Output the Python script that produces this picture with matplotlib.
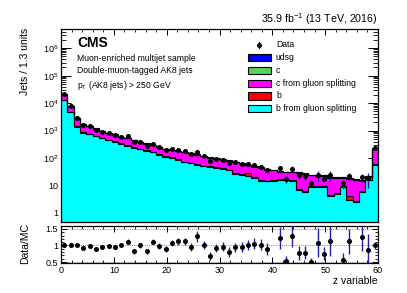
import numpy as np
import matplotlib
matplotlib.use("Agg")
import matplotlib.pyplot as plt
from matplotlib.patches import Rectangle
from matplotlib.ticker import FixedLocator, FuncFormatter, MultipleLocator, LogLocator, NullFormatter

# ---- data ---------------------------------------------------------------
# 50 bins over 0..60 (the y-axis title of the original still says 1.3 units)
N_BINS = 50
edges = np.linspace(0, 60, N_BINS + 1)

# stacked MC components (bottom -> top)
b_gsp = [13000, 4700, 1350, 850, 740, 620, 520, 450, 390, 330,
         285, 240, 210, 185, 160, 130, 112, 100, 85, 70,
         64, 58, 50, 48, 45, 40, 36, 26, 24, 22,
         19, 15, 14, 15, 16, 16, 15, 7, 6, 9,
         9, 9, 4, 5, 9, 3, 2.5, 6, 16, 56]
b = [500, 200, 60, 35, 30, 25, 20, 18, 15, 14,
     14, 12, 10, 8, 7, 6, 5, 5, 4, 4,
     3, 3, 3, 2, 2, 2, 2, 2, 2, 6,
     1, 1, 1, 1, 1, 0.5, 0.5, 0.5, 0.5, 0.5,
     0.3, 0.3, 0.3, 0.3, 0.3, 1.2, 0.2, 0.2, 0.3, 3]
c_gsp = [6600, 2600, 1400, 760, 682, 520, 392, 340, 306, 240,
         237, 186, 160, 138, 125, 107, 96, 89, 85, 86,
         79, 70, 63, 51, 47, 44, 40.5, 43, 37, 27,
         27, 28, 23, 20, 15, 13.5, 14.5, 21.5, 20, 14,
         12.2, 13.2, 15.2, 13.2, 10.2, 13.3, 13, 8.5, 4, 163]
c = [500, 180, 50, 30, 28, 20, 16, 12, 11, 9,
     8, 7, 6, 5, 5, 4, 4, 3, 3, 3,
     2, 2, 2, 2, 2, 2, 2, 1.5, 1.5, 1.5,
     4, 1, 1, 1, 1, 1, 1, 1, 0.8, 0.8,
     0.8, 0.8, 0.8, 0.8, 0.8, 0.8, 0.8, 0.8, 1, 8]
udsg = [400, 120, 40, 25, 20, 15, 12, 10, 8, 7,
        6, 5, 4, 4, 3, 3, 3, 3, 3, 2,
        2, 2, 2, 7, 2, 2, 1.5, 1.5, 1.5, 1.5,
        1, 1, 1, 1, 1, 1, 1, 1, 0.7, 0.7,
        0.7, 0.7, 0.7, 0.7, 0.7, 0.7, 0.5, 0.5, 0.7, 10]

# data counts (0 = empty bin, not drawn)
data = [21000, 7800, 2900, 1564, 1455, 1056, 912, 805, 686, 600,
        616, 369, 390, 279, 336, 243, 198, 214, 203, 185,
        143, 173, 121, 76, 91, 87, 66, 70, 63, 59,
        55, 47, 36, 0, 42, 17, 41, 24, 22, 12.5,
        25, 18, 24, 0, 12, 21.5, 0, 20, 19, 240]

# data/MC uncertainty (data + MC statistics)
ratio_err = [0.02, 0.02, 0.03, 0.03, 0.03, 0.04, 0.04, 0.05, 0.05, 0.06,
             0.07, 0.07, 0.07, 0.08, 0.08, 0.09, 0.09, 0.10, 0.11, 0.12,
             0.11, 0.17, 0.12, 0.12, 0.13, 0.13, 0.14, 0.14, 0.15, 0.15,
             0.16, 0.17, 0.18, 0.00, 0.34, 0.15, 0.33, 0.20, 0.20, 0.12,
             0.43, 0.20, 0.45, 0.00, 0.20, 0.38, 0.00, 0.40, 0.48, 0.10]

components = [
    (b_gsp, "#00ffff", "b from gluon splitting"),
    (b, "#ff0000", "b"),
    (c_gsp, "#ff00ff", "c from gluon splitting"),
    (c, "#55d455", "c"),
    (udsg, "#0000ff", "udsg"),
]

# ---- style ----------------------------------------------------------------
plt.rcParams.update({
    "font.family": "Liberation Sans",
    "mathtext.fontset": "custom",
    "mathtext.rm": "Liberation Sans",
    "mathtext.it": "Liberation Sans:italic",
    "mathtext.bf": "Liberation Sans:bold",
    "axes.linewidth": 0.9,
})

W, H = 407, 293
fig = plt.figure(figsize=(W / 100, H / 100), dpi=100, facecolor="white")


def fx(px):
    return px / W


def fy(py):
    return 1 - py / H


ax = fig.add_axes([fx(61), fy(222), fx(378) - fx(61), fy(29) - fy(222)])
rax = fig.add_axes([fx(61), fy(263), fx(378) - fx(61), fy(226) - fy(263)])

# ---- main stack ---------------------------------------------------------
bottom = np.full(N_BINS, 0.05)
for vals, color, _ in components:
    top = bottom + np.asarray(vals, dtype=float)
    ax.stairs(top, edges, baseline=bottom, fill=True, color=color, zorder=2)
    ax.stairs(top, edges, baseline=None, color="black", linewidth=0.8, zorder=3)
    bottom = top
mc_total = bottom

data = np.asarray(data, dtype=float)
ratio_err = np.asarray(ratio_err)
filled = data > 0
ratio = data / mc_total
data_err = ratio_err * mc_total
centers = 0.5 * (edges[1:] + edges[:-1])
ax.errorbar(centers[filled], data[filled], yerr=data_err[filled], fmt="o",
            color="black", ecolor="#2020a0", elinewidth=1.0, markersize=2.6,
            capsize=0, zorder=5)

ax.set_yscale("log")
ax.set_xlim(0, 60)
ax.set_ylim(0.47, 5e6)


def log_fmt(v, pos):
    if v == 1:
        return "1"
    if v == 10:
        return "10"
    return r"$10^{%d}$" % int(round(np.log10(v)))


ax.yaxis.set_major_locator(FixedLocator([1, 10, 1e2, 1e3, 1e4, 1e5, 1e6]))
ax.yaxis.set_major_formatter(FuncFormatter(log_fmt))
ax.yaxis.set_minor_locator(LogLocator(base=10, subs=np.arange(2, 10), numticks=20))
ax.yaxis.set_minor_formatter(NullFormatter())
ax.xaxis.set_major_locator(MultipleLocator(10))
ax.xaxis.set_minor_locator(MultipleLocator(2))
ax.tick_params(axis="both", which="both", direction="in", top=True, right=True,
               labelsize=6.5, pad=2)
ax.tick_params(axis="y", which="major", length=7, width=0.7)
ax.tick_params(axis="y", which="minor", length=3.5, width=0.6)
ax.tick_params(axis="x", which="major", length=4, width=0.7, labelbottom=False)
ax.tick_params(axis="x", which="minor", length=2, width=0.6)

# ---- ratio panel ----------------------------------------------------------
rax.errorbar(centers[filled], ratio[filled], yerr=ratio_err[filled], fmt="o",
             color="black", ecolor="#2020b0", elinewidth=1.0, markersize=2.6,
             capsize=0, zorder=5)
for yv in (0.5, 1.0, 1.5):
    rax.axhline(yv, color="#888888", linestyle=(0, (1, 1.2)), linewidth=0.7, zorder=1)
rax.set_xlim(0, 60)
rax.set_ylim(0.47, 1.59)
rax.yaxis.set_major_locator(FixedLocator([0.5, 1.0, 1.5]))
rax.yaxis.set_major_formatter(FuncFormatter(lambda v, p: "%g" % v))
rax.yaxis.set_minor_locator(MultipleLocator(0.1))
rax.xaxis.set_major_locator(MultipleLocator(10))
rax.xaxis.set_minor_locator(MultipleLocator(2))
rax.tick_params(axis="both", which="both", direction="in", top=True, right=True,
                labelsize=6.5, pad=2)
rax.tick_params(axis="y", which="major", length=4, width=0.7)
rax.tick_params(axis="y", which="minor", length=2, width=0.6)
rax.tick_params(axis="x", which="major", length=4, width=0.7)
rax.tick_params(axis="x", which="minor", length=2, width=0.6)

# ---- labels -------------------------------------------------------------------
fig.text(fx(25), fy(28), "Jets / 1.3 units", rotation=90, ha="center", va="top",
         fontsize=7.5)
fig.text(fx(25), fy(243), "Data/MC", rotation=90, ha="center", va="center",
         fontsize=7.5)
fig.text(fx(378), fy(284), "z variable", ha="right", va="baseline", fontsize=7.5)
fig.text(fx(378), fy(23), r"35.9 fb$^{-1}$ (13 TeV, 2016)", ha="right",
         va="baseline", fontsize=7.7)
fig.text(fx(77), fy(47), "CMS", ha="left", va="baseline", fontsize=10,
         fontweight="bold")
fig.text(fx(77), fy(61), "Muon-enriched multijet sample", ha="left",
         va="baseline", fontsize=6.2)
fig.text(fx(77), fy(73), "Double-muon-tagged AK8 jets", ha="left",
         va="baseline", fontsize=6.2)
fig.text(fx(77), fy(88), r"p$_{\mathregular{T}}$ (AK8 jets) > 250 GeV",
         ha="left", va="baseline", fontsize=6.2)

# ---- legend (drawn by hand, ROOT-like) -------------------------------------
fig.lines.append(plt.Line2D([fx(259.3), fx(259.3)], [fy(41.5), fy(47.5)],
                            transform=fig.transFigure, color="black", linewidth=0.8))
fig.lines.append(plt.Line2D([fx(259.3)], [fy(44.5)], transform=fig.transFigure,
                            marker="o", markersize=2.6, color="black"))
fig.text(fx(276), fy(44.5), "Data", ha="left", va="center", fontsize=6.2)
rows_y = [57.7, 70.7, 83.3, 96.0, 108.3]
for (vals, color, label), row in zip(components[::-1], rows_y):
    fig.patches.append(Rectangle((fx(248.3), fy(row + 3.5)), fx(270.7) - fx(248.3),
                                 fy(row - 3.5) - fy(row + 3.5),
                                 transform=fig.transFigure, facecolor=color,
                                 edgecolor="black", linewidth=0.8))
    fig.text(fx(276), fy(row), label, ha="left", va="center", fontsize=6.2)

fig.savefig("out.png", dpi=100, facecolor="white")
